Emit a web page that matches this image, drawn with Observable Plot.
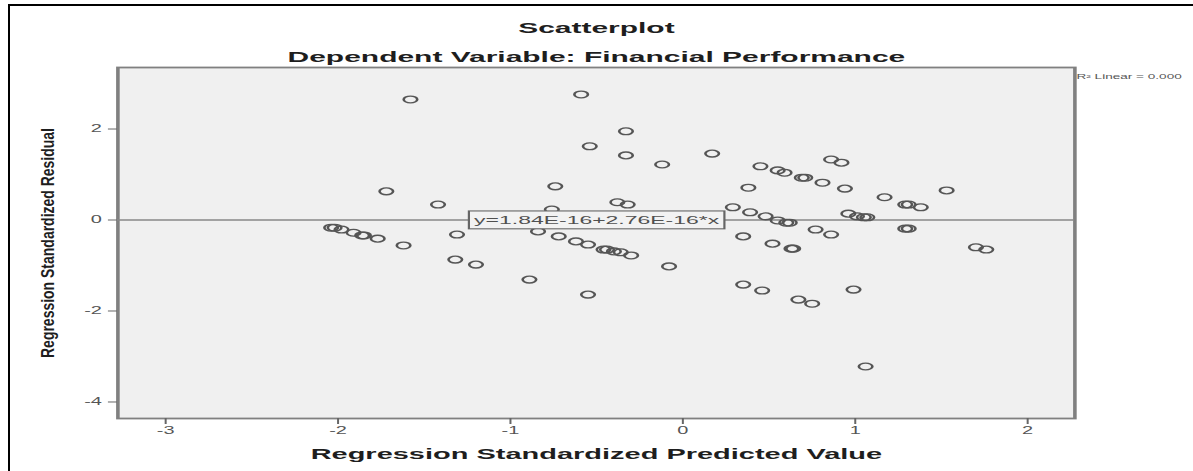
<!DOCTYPE html>
<html><head><meta charset="utf-8">
<script src="https://cdn.jsdelivr.net/npm/d3@7"></script>
<script src="https://cdn.jsdelivr.net/npm/@observablehq/plot@0.6"></script>
<style>
html,body{margin:0;padding:0;background:#fff;overflow:hidden;}
#wrap{position:relative;width:1193px;height:471px;overflow:hidden;background:#fff;}
#chart{position:absolute;left:0;top:0;width:597px;transform-origin:0 0;transform:scaleX(1.99832);}
#border{position:absolute;left:7.5px;top:3.5px;right:-20px;bottom:-20px;border-left:2.5px solid #000;border-top:2.5px solid #000;pointer-events:none;}
</style></head><body>
<div id="wrap"><div id="chart"></div><div id="border"></div></div>
<script>
const titleText = "Scatterplot";
const subtitleText = "Dependent Variable: Financial Performance";
const xLabel = "Regression Standardized Predicted Value";
const yLabel = "Regression Standardized Residual";
const fitLabel = "R² Linear = 0.000";
const fitIntercept = 1.84e-16;
const fitSlope = 2.76e-16;
const equationLabel = "y=1.84E-16+2.76E-16*x";
const equationAtX = -0.5;

const xTicks = [-3, -2, -1, 0, 1, 2];
const xTickLabels = ["-3", "-2", "-1", "0", "1", "2"];
const yTicks = [-4, -2, 0, 2];
const yTickLabels = ["-4", "-2", "0", "2"];
const xDomain = [-3.277, 2.274];
const yDomain = [-4.363, 3.352];

const predicted = [
  -1.58, -0.59, -0.33, -0.54, -0.33, -0.12, 0.17, -1.72, -1.42, -0.74, -0.38, -0.32, -0.76,
  0.45, 0.55, 0.59, 0.69, 0.71, 0.81, 0.86, 0.92, 0.94, 0.38, 1.17, 1.29, 1.31, 1.38, 1.53,
  0.29, 0.39, 0.48, 0.55, 0.60, 0.62, 0.96, 1.01, 1.05, 1.07,
  1.29, 1.31, 0.77, 0.86, 0.35, 0.52, 0.63, 0.64, 1.70, 1.76, 0.35, 0.46, 0.67, 0.75, 0.99, 1.06,
  -2.04, -2.02, -1.98, -1.91, -1.86, -1.85, -1.77, -1.62, -1.31, -1.32, -1.20, -0.89, -0.84,
  -0.72, -0.62, -0.55, -0.46, -0.44, -0.40, -0.36, -0.30, -0.08, -0.55
];
const residual = [
  2.65, 2.76, 1.95, 1.62, 1.42, 1.22, 1.46, 0.63, 0.34, 0.74, 0.39, 0.34, 0.23,
  1.18, 1.09, 1.04, 0.93, 0.93, 0.82, 1.33, 1.26, 0.69, 0.71, 0.50, 0.34, 0.34, 0.28, 0.65,
  0.28, 0.17, 0.08, -0.01, -0.06, -0.06, 0.14, 0.08, 0.06, 0.06,
  -0.19, -0.19, -0.21, -0.32, -0.36, -0.52, -0.63, -0.63, -0.60, -0.65, -1.42, -1.55, -1.75, -1.84, -1.53, -3.22,
  -0.17, -0.17, -0.21, -0.28, -0.34, -0.34, -0.41, -0.56, -0.32, -0.87, -0.98, -1.31, -0.25,
  -0.36, -0.47, -0.54, -0.65, -0.65, -0.69, -0.71, -0.78, -1.02, -1.64
];

const points = predicted.map((x, i) => ({x, y: residual[i]}));
const eqPoint = [{x: equationAtX, y: fitIntercept + fitSlope * equationAtX, text: equationLabel}];

const font = "Liberation Sans, Arial, Helvetica, sans-serif";
const chart = Plot.plot({
  width: 597,
  height: 471,
  marginLeft: 58.5,
  marginRight: 59.6,
  marginTop: 67,
  marginBottom: 53,
  style: {fontFamily: font, background: "transparent"},
  x: {domain: xDomain},
  y: {domain: yDomain},
  marks: [
    Plot.frame({fill: "#f0f0f0", stroke: "#808080", strokeWidth: 1.8}),
    Plot.axisX(xTicks, {tickSize: 6, tickPadding: 2, fontSize: 10, stroke: "#666", fill: "#555",
      tickFormat: d => xTickLabels[xTicks.indexOf(d)], label: null}),
    Plot.axisY(yTicks, {tickSize: 4.5, tickPadding: 3.5, fontSize: 10, stroke: "#666", fill: "#555",
      tickFormat: d => yTickLabels[yTicks.indexOf(d)], label: null}),
    Plot.ruleY([fitIntercept], {stroke: "#888", strokeWidth: 1.6}),
    Plot.dot(points, {x: "x", y: "y", r: 3.4, stroke: "#555", strokeWidth: 1.3, fill: "none"}),
    Plot.text(eqPoint, {x: "x", y: "y", text: "text", fontSize: 11.5, fill: "#505050",
      textAnchor: "middle", lineAnchor: "middle"}),
    Plot.text([titleText], {frameAnchor: "top", dy: -39.3, fontSize: 15, fontWeight: "bold",
      fill: "#1e1e1e", lineAnchor: "middle"}),
    Plot.text([subtitleText], {frameAnchor: "top", dy: -10.8, fontSize: 15, fontWeight: "bold",
      fill: "#1e1e1e", lineAnchor: "middle"}),
    Plot.text([xLabel], {frameAnchor: "bottom", dy: 35.4, fontSize: 14.5, fontWeight: "bold",
      fill: "#1e1e1e", lineAnchor: "middle"}),
    Plot.text([yLabel], {frameAnchor: "left", dx: -34.9, rotate: -90, fontSize: 9, fontWeight: "bold",
      fill: "#1e1e1e", lineAnchor: "middle"}),
    Plot.text([fitLabel], {frameAnchor: "top-right", dx: 0.8, dy: 9.8, fontSize: 6.8, fill: "#555",
      textAnchor: "start", lineAnchor: "middle"})
  ]
});
document.getElementById("chart").append(chart);

const svg = d3.select(chart);
const yLen = 230;
svg.selectAll("text").filter(function() { return this.textContent === yLabel; })
  .attr("text-anchor", "start").attr("x", -yLen / 2)
  .attr("textLength", yLen).attr("lengthAdjust", "spacingAndGlyphs");
const eqNode = svg.selectAll("text").filter(function() { return this.textContent === equationLabel; }).node();
if (eqNode) {
  const bb = eqNode.getBBox();
  const padX = 2.6, padY = 2.6;
  d3.select(eqNode.parentNode).insert("rect", () => eqNode)
    .attr("transform", eqNode.getAttribute("transform"))
    .attr("x", bb.x - padX).attr("y", bb.y - padY)
    .attr("width", bb.width + 2 * padX).attr("height", bb.height + 2 * padY)
    .attr("fill", "#f2f2f2").attr("stroke", "#666").attr("stroke-width", 1.1);
}
</script>
</body></html>
